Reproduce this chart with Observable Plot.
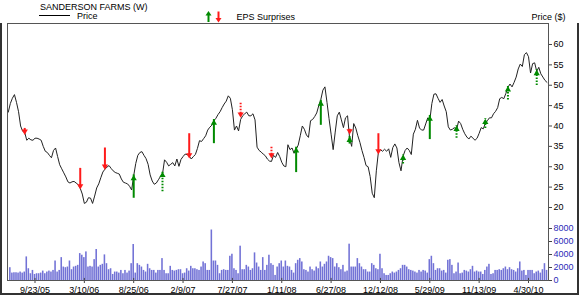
<!DOCTYPE html>
<html><head><meta charset="utf-8">
<script src="https://cdn.jsdelivr.net/npm/d3@7"></script>
<script src="https://cdn.jsdelivr.net/npm/@observablehq/plot@0.6"></script>
<style>
body{margin:0;background:#fff;font-family:"Liberation Sans",Arial,sans-serif;}
#c{position:relative;width:580px;height:296px;overflow:hidden;background:#fff;}
.t{position:absolute;font-size:9px;line-height:9px;color:#000;white-space:nowrap;}
.abs{position:absolute;}
#outer{position:absolute;left:0;top:23px;width:579px;height:272px;box-sizing:border-box;border-left:2px solid #333;border-right:2px solid #333;border-bottom:2px solid #333;}
#frame{position:absolute;left:7px;top:23px;width:542px;height:258px;box-sizing:border-box;border:1px solid #555;pointer-events:none;}
svg{position:absolute;left:0;}
</style></head>
<body><div id="c">
<div id="outer"></div>
<div class="t" style="left:40px;top:3.2px">SANDERSON FARMS (W)</div>
<div class="abs" style="left:39px;top:15px;width:31px;height:1px;background:#000"></div>
<div class="t" style="left:77px;top:12px">Price</div>
<svg width="20" height="13" style="left:203px;top:9.5px" viewBox="0 0 20 13">
<path d="M5.5 12 V4" stroke="#008a00" stroke-width="2"/><path d="M2.5 5.5 L5.5 1 L8.5 5.5 Z" fill="#008a00"/>
<path d="M15.5 1.5 V9" stroke="#ff1a1a" stroke-width="2"/><path d="M12.5 8 L15.5 12.5 L18.5 8 Z" fill="#ff1a1a"/>
</svg>
<div class="t" style="left:236.5px;top:12.5px">EPS Surprises</div>
<div class="t" style="right:14.5px;top:12.5px">Price ($)</div>
<div id="p1" class="abs" style="left:0;top:23px;width:580px;height:195px"></div>
<div id="p2" class="abs" style="left:0;top:218px;width:580px;height:78px"></div>
<div id="frame"></div>
</div>
<script>
// ---- data ----
// weekly closing prices, week index 0 = 2005-09-23, first value is week -13
const priceStartWeek = -13;
const price = [
43.4,45.5,46.8,47.7,45.8,43.5,40.0,38.7,38.4,36.5,37.0,36.6,36.5,
37.0,37.0,36.8,36.5,35.0,33.8,33.5,32.8,32.2,34.0,34.6,32.5,30.5,29.5,28.5,27.5,26.3,26.0,26.3,26.4,26.0,25.6,24.7,23.3,
21.0,21.3,22.4,22.3,21.0,22.8,24.8,25.8,27.3,28.7,29.4,29.9,30.3,29.6,29.0,28.6,28.4,28.2,27.0,26.2,26.0,25.8,25.2,24.3,
27.8,30.8,32.8,33.5,33.7,32.8,32.0,30.6,28.0,26.5,25.7,26.0,26.8,27.6,28.2,31.7,31.1,30.2,30.6,31.0,30.2,31.9,30.1,31.8,
32.5,33.1,33.0,32.6,31.9,32.5,33.0,34.5,36.4,36.2,36.9,37.6,39.0,39.7,40.2,41.3,41.9,42.8,43.5,44.5,45.4,46.1,47.4,46.8,
44.0,39.0,40.0,38.8,41.6,42.5,43.0,43.4,42.5,42.5,43.0,41.5,34.8,34.0,33.6,33.1,32.7,31.9,31.4,31.3,32.8,32.3,33.5,32.5,
31.1,30.2,30.0,35.4,34.2,34.6,33.3,34.3,35.3,37.6,40.0,39.2,37.8,37.2,41.3,41.6,42.3,43.2,45.0,46.5,48.8,49.6,45.8,41.8,
38.0,34.2,38.5,42.5,43.4,41.5,39.6,42.0,42.5,37.0,35.0,40.6,39.5,37.6,36.0,34.0,32.3,30.3,30.0,27.6,23.5,22.4,29.0,33.6,
34.2,33.8,34.3,33.8,34.4,32.3,34.7,35.6,34.6,31.0,29.0,32.6,34.0,34.6,34.0,33.0,38.0,39.2,41.4,39.5,39.0,39.0,40.5,42.0,
41.4,45.5,47.8,47.9,46.8,45.8,46.5,44.9,43.5,39.8,39.0,39.2,39.6,39.0,41.2,40.6,39.2,38.1,37.3,36.8,37.5,37.0,36.5,37.0,
38.2,39.6,39.3,40.6,41.3,42.0,42.0,43.0,43.6,44.5,46.7,47.0,46.7,48.0,49.5,50.3,49.6,50.7,52.0,54.0,55.2,54.6,57.5,58.0,
57.0,53.0,55.3,55.5,53.4,54.4,52.8,52.0,51.2,50.7
];
// weekly volume, first value is week -12
const volumeStartWeek = -12;
const volume = [
1970,1140,1190,1190,1140,1300,1140,1300,3630,1810,
1040,1550,930,1040,1040,1140,1450,1040,1300,
1450,1300,1550,3000,1300,1550,3520,2070,1970,2070,
3000,1660,2070,2180,2330,4140,3890,3520,4400,2070,
2180,2070,3210,4770,2070,2330,2490,3940,2590,1660,
1810,930,1300,1300,1140,1550,1040,1550,1140,
1450,2590,5540,1140,2590,2330,2070,1550,1300,2490,
1810,1550,1550,1140,1550,1550,3370,1550,1040,1040,
2180,1550,1450,1550,1660,1660,1040,1140,1810,1450,
2180,1810,1810,1660,1550,2070,2850,2590,1550,1550,
7770,3000,3000,2330,1040,1550,1660,1550,1550,
3730,4040,1810,1550,1040,5280,1660,1660,2330,2070,
1550,1810,4250,2690,2070,1550,3520,1550,2330,3890,
2590,2330,780,2070,2590,3000,2070,3000,2180,
2070,1550,1140,2590,3110,3370,2850,1660,1550,1300,
2070,1660,1450,2070,1810,2850,2070,2490,2850,3730,
3520,3370,2070,2590,1970,1660,2330,1300,1450,5590,
2070,2070,2070,3370,2590,2070,1660,1660,1300,1300,
2590,2330,1810,1660,4040,1810,1040,780,780,1040,
1300,1140,1300,1550,1810,2330,2330,2070,1660,
1550,1450,1300,1140,1550,1300,1550,1450,1140,3210,
3730,2590,1550,1810,1810,1450,1550,1140,3110,3210,
2330,1040,1300,2690,1040,1140,1550,1450,1300,
1660,2180,1300,1450,1300,1300,930,1550,2070,2490,
930,1040,1550,1550,1660,1550,1810,2070,1660,1970,
1660,1550,1300,1810,2850,1450,1550,780,1550,
1550,1550,1040,1300,1450,1140,1660,2590,1550
];
// EPS surprise arrows
const epsWeek  = [-5, 22, 34, 48, 62, 75, 87, 100, 115, 127, 139, 153, 153, 167, 179, 192, 205, 219, 230, 244];
const epsDir   = ["down","down","down","up","up","down","up","down","down","up","up","down","up","down","up","up","up","up","up","up"];
const epsFrom  = [39.4, 29.6, 34.6, 23.0, 24.6, 38.1, 36.4, 45.6, 34.8, 29.3, 40.9, 39.2, 36.3, 38.1, 31.4, 37.4, 37.7, 40.1, 47.1, 50.7];
const epsTo    = [37.8, 24.4, 29.2, 28.0, 28.8, 32.0, 41.6, 42.0, 32.0, 34.8, 46.3, 37.9, 37.4, 33.0, 33.0, 42.6, 40.1, 41.8, 49.8, 53.8];
const epsStyle = ["solid","solid","solid","solid","dotted","solid","solid","dotted","dotted","solid","solid","solid","solid","solid","dotted","solid","dotted","dotted","dotted","dotted"];
// axes
const xTickLabels = ["9/23/05","3/10/06","8/25/06","2/9/07","7/27/07","1/11/08","6/27/08","12/12/08","5/29/09","11/13/09","4/30/10"];
const xTickWeeks = [0,24,48,72,96,120,144,168,192,216,240];
const priceTicks = [20,25,30,35,40,45,50,55,60];
const volumeTicks = [0,2000,4000,6000,8000];

// ---- build tables ----
const weekDate = k => new Date(Date.UTC(2005, 8, 23 + 7 * k));
const priceData = price.map((p, i) => ({date: weekDate(priceStartWeek + i), price: p}));
const volData = volume.map((v, i) => ({date: weekDate(volumeStartWeek + i), v}));
const eps = epsWeek.map((k, i) => ({date: weekDate(k), dir: epsDir[i], from: epsFrom[i], to: epsTo[i], style: epsStyle[i]}));
const tickDates = xTickWeeks.map(weekDate);
const labelOf = new Map(tickDates.map((d, i) => [+d, xTickLabels[i]]));
const xDomain = [new Date("2005-06-21T09:00Z"), new Date("2010-07-07T02:00Z")];
const GREEN = "#008a00", RED = "#ff1a1a";
const font = {fontFamily: "Liberation Sans, Arial, sans-serif", fontSize: "9px", background: "transparent", overflow: "visible"};

const up = eps.filter(d => d.dir === "up"), down = eps.filter(d => d.dir === "down");
const stem = (data, color, style, inset) => Plot.ruleX(data.filter(d => d.style === style), {
  x: "date", y1: "from", y2: "to", stroke: color, strokeWidth: 2,
  strokeDasharray: style === "dotted" ? "1.5,1.5" : null, ...inset
});

const p1 = Plot.plot({
  width: 580, height: 195, marginLeft: 7, marginRight: 32, marginTop: 0, marginBottom: 0,
  x: {type: "utc", domain: xDomain, axis: null},
  y: {domain: [17.3, 65.15], axis: null},
  style: font,
  marks: [
    Plot.axisY({anchor: "right", label: null, ticks: priceTicks, tickSize: 3, tickPadding: 2, tickFormat: d => String(d), fill: "#000", stroke: "#444"}),
    Plot.line(priceData, {x: "date", y: "price", stroke: "#222", strokeWidth: 1}),
    stem(up, GREEN, "solid", {insetTop: 3}),
    stem(up, GREEN, "dotted", {insetTop: 3}),
    stem(down, RED, "solid", {insetBottom: 3}),
    stem(down, RED, "dotted", {insetBottom: 3}),
    Plot.dot(up, {x: "date", y: "to", symbol: "triangle", r: 2.3, fill: GREEN, dy: 3.6}),
    Plot.dot(down, {x: "date", y: "to", symbol: "triangle", rotate: 180, r: 2.3, fill: RED, dy: -3.6})
  ]
});
document.getElementById("p1").appendChild(p1);

const p2 = Plot.plot({
  width: 580, height: 78, marginLeft: 7, marginRight: 32, marginTop: 0, marginBottom: 16,
  x: {type: "utc", domain: xDomain, axis: null},
  y: {domain: [0, 9540], axis: null},
  style: font,
  marks: [
    Plot.rectY(volData, {x1: d => d3.utcHour.offset(d.date, -84), x2: d => d3.utcHour.offset(d.date, 84), y: "v", fill: "#7272d6", insetLeft: 0.25, insetRight: 0.25}),
    Plot.axisY({anchor: "right", label: null, ticks: volumeTicks, tickSize: 3, tickPadding: 2, tickFormat: d => String(d), fill: "#2a2ab8", stroke: "#444"}),
    Plot.axisX({label: null, ticks: tickDates, tickFormat: d => labelOf.get(+d), tickSize: 3, tickPadding: 3, fill: "#000", stroke: "#444"}),
    Plot.ruleX(tickDates, {y1: 0, y2: 320, stroke: "#444"})
  ]
});
document.getElementById("p2").appendChild(p2);
</script>
</body></html>
